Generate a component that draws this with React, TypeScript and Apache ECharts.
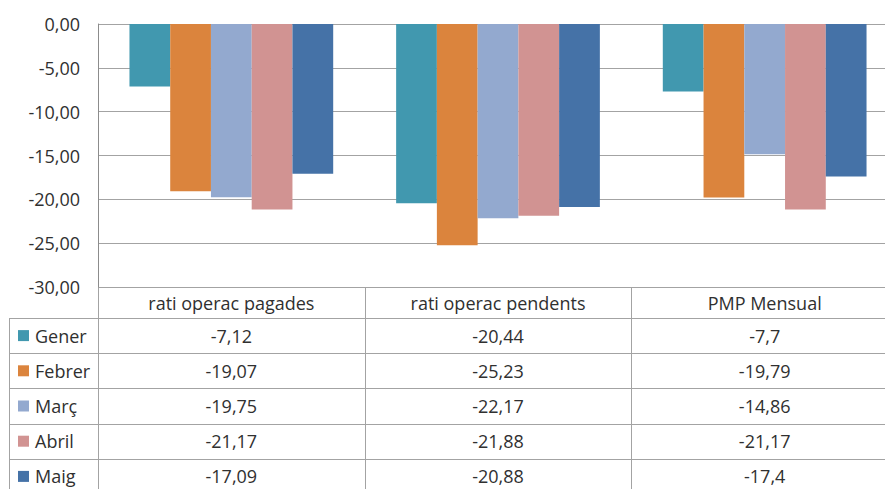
import React, { useEffect, useRef } from 'react';
import * as echarts from 'echarts';

const categories = ['rati operac pagades', 'rati operac pendents', 'PMP Mensual'];
const months = ['Gener', 'Febrer', 'Març', 'Abril', 'Maig'];
const gener = [-7.12, -20.44, -7.7];
const febrer = [-19.07, -25.23, -19.79];
const marc = [-19.75, -22.17, -14.86];
const abril = [-21.17, -21.88, -21.17];
const maig = [-17.09, -20.88, -17.4];
const seriesValues = [gener, febrer, marc, abril, maig];
const colors = ['#4198AF', '#DB843D', '#93A9CF', '#D19392', '#4572A7'];
const yMin = -30;
const yMax = 0;
const yStep = 5;

const W = 898;
const H = 489;
const GL = 98;
const GT = 24;
const GB = 287;
const HEAD_B = 318;
const ROW_H = 35.2;
const LEG_L = 9;
const FONT = '"Open Sans", "Noto Sans", sans-serif';
const TXT = '#303030';
const LINE = '#a3a3a3';

const fmt = (v: number) => String(v).replace('.', ',');

export default function App() {
  const ref = useRef<HTMLDivElement>(null);
  useEffect(() => {
    if (!ref.current) return;
    const chart = echarts.init(ref.current, undefined, { renderer: 'svg' });
    const cw = (W - GL) / categories.length;
    const graphic: any[] = [];
    // horizontal table lines
    for (let j = 0; j <= months.length; j++) {
      const y = Math.round(HEAD_B + j * ROW_H) + 0.5;
      graphic.push({ type: 'line', silent: true, shape: { x1: LEG_L, y1: y, x2: W, y2: y }, style: { stroke: LINE, lineWidth: 1 } });
    }
    // vertical table lines
    for (let i = 0; i < categories.length; i++) {
      const x = Math.round(GL + i * cw) + 0.5;
      graphic.push({ type: 'line', silent: true, shape: { x1: x, y1: GB, x2: x, y2: H }, style: { stroke: LINE, lineWidth: 1 } });
    }
    graphic.push({ type: 'line', silent: true, shape: { x1: LEG_L + 0.5, y1: HEAD_B, x2: LEG_L + 0.5, y2: H }, style: { stroke: LINE, lineWidth: 1 } });
    // rows
    months.forEach((m, j) => {
      const cy = HEAD_B + j * ROW_H + ROW_H / 2;
      graphic.push({ type: 'rect', silent: true, shape: { x: 18, y: cy - 5.5, width: 11, height: 11 }, style: { fill: colors[j] } });
      graphic.push({ type: 'text', silent: true, x: 35, y: cy, style: { text: m, font: `18px ${FONT}`, fill: TXT, textAlign: 'left', textVerticalAlign: 'middle' } });
      seriesValues[j].forEach((v, i) => {
        graphic.push({ type: 'text', silent: true, x: GL + cw * (i + 0.5), y: cy, style: { text: fmt(v), font: `18px ${FONT}`, fill: TXT, textAlign: 'center', textVerticalAlign: 'middle' } });
      });
    });

    chart.setOption({
      animation: false,
      textStyle: { fontFamily: FONT },
      grid: { left: GL, right: 0, top: GT, bottom: H - GB, containLabel: false },
      xAxis: {
        type: 'category',
        data: categories,
        position: 'bottom',
        axisLine: { show: false },
        axisTick: { show: false },
        axisLabel: { color: TXT, fontSize: 18, fontFamily: FONT, margin: 7, interval: 0 },
      },
      yAxis: {
        type: 'value',
        min: yMin,
        max: yMax,
        interval: yStep,
        axisLine: { show: true, lineStyle: { color: '#8c8c8c', width: 1 } },
        axisTick: { show: false },
        splitLine: { show: true, lineStyle: { color: LINE, width: 1 } },
        axisLabel: { color: TXT, fontSize: 18, fontFamily: FONT, margin: 18, formatter: (v: number) => v.toFixed(2).replace('.', ',') },
      },
      series: months.map((m, j) => ({
        name: m,
        type: 'bar',
        data: seriesValues[j],
        barGap: '0%',
        barCategoryGap: '23.6%',
        itemStyle: { color: colors[j] },
      })),
      graphic,
    });
    return () => chart.dispose();
  }, []);
  return (
    <div style={{ position: 'fixed', left: 0, top: 0, width: 885, height: H, overflow: 'hidden', background: '#fff' }}>
      <div ref={ref} style={{ width: W, height: H }} />
    </div>
  );
}
